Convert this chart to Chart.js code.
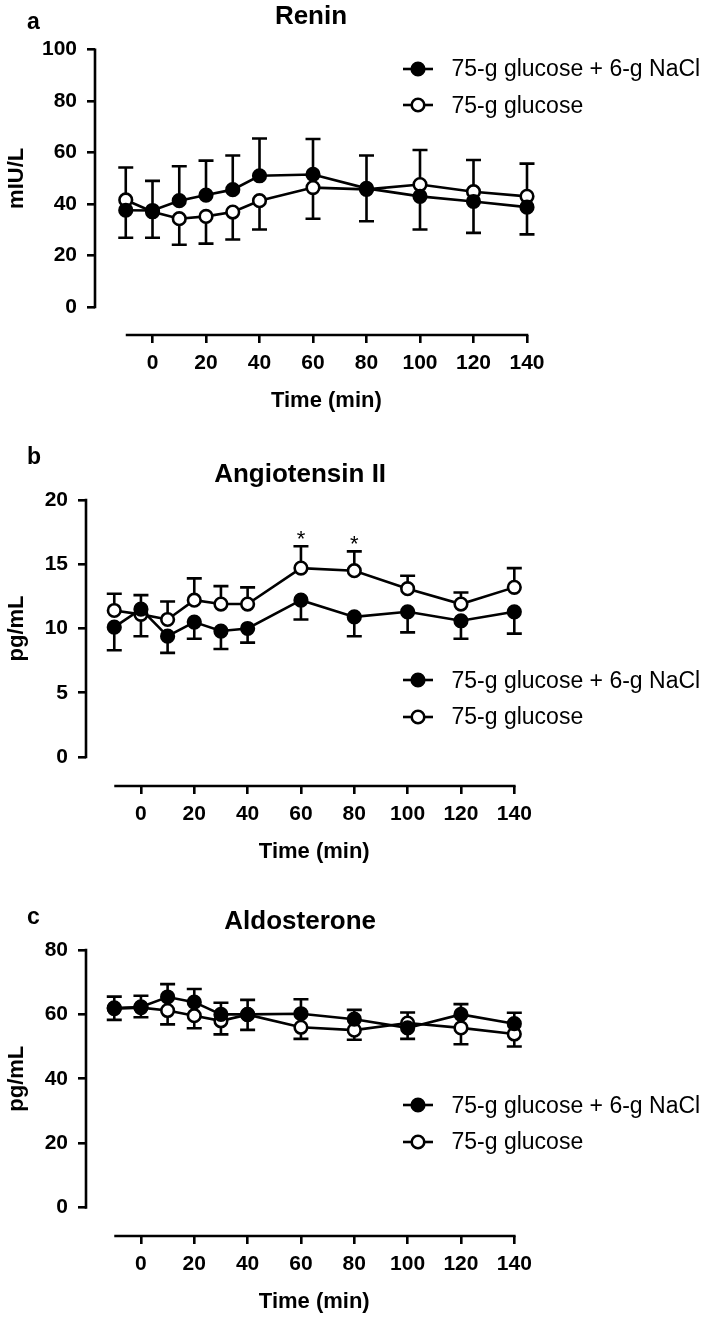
<!DOCTYPE html>
<html>
<head>
<meta charset="utf-8">
<script src="https://cdn.jsdelivr.net/npm/chart.js@4.4.0/dist/chart.umd.min.js"></script>
<style>
  body { margin: 0; background: #fff; width: 709px; height: 1319px; overflow: hidden; font-family: "Liberation Sans", Arial, Helvetica, sans-serif; color: #000; }
  .panel { position: absolute; left: 0; width: 709px; }
  .panel canvas { display: block; }
  .letter { position: absolute; left: 27px; font-weight: bold; font-size: 23px; line-height: 22px; }
  .legend { position: absolute; left: 403px; font-size: 23px; }
  .legend .row { display: flex; align-items: center; height: 36.5px; white-space: nowrap; }
  .legend svg { margin-right: 17.5px; flex: none; }
</style>
</head>
<body>
<div class="panel" id="pa" style="top:0"><canvas id="cA" width="709" height="430"></canvas></div>
<div class="panel" id="pb" style="top:430px"><canvas id="cB" width="709" height="440"></canvas></div>
<div class="panel" id="pc" style="top:870px"><canvas id="cC" width="709" height="449"></canvas></div>

<script>
const INK = '#000';
const FONT = "'Liberation Sans', Arial, Helvetica, sans-serif";
const LW = 2.6;

// sampling times (min) and x ticks, shared by all panels
const times = [-10, 0, 10, 20, 30, 40, 60, 80, 100, 120, 140];
const timeTicks = [0, 20, 40, 60, 80, 100, 120, 140];
const seriesNames = ['75-g glucose + 6-g NaCl', '75-g glucose'];

// a: renin, mIU/L (mean, SEM)
const reninSalt    = [37.6, 37.5, 41.3, 43.5, 45.6, 51.0, 51.5, 46.1, 43.0, 41.0, 38.8];
const reninSaltSem = [10.7, 11.5, 13.4, 13.4, 13.3, 14.5, 13.8, 12.8, 12.9, 12.2, 10.6];
const reninGlu     = [41.6, 37.0, 34.3, 35.2, 36.9, 41.3, 46.4, 45.7, 47.6, 44.8, 43.0];
const reninGluSem  = [12.6, 10.1, 10.1, 10.6, 10.7, 11.2, 12.1, 12.4, 13.4, 12.3, 12.7];
const reninTicks   = [0, 20, 40, 60, 80, 100];

// b: angiotensin II, pg/mL
const angSalt    = [10.1, 11.5, 9.4, 10.5, 9.8, 10.0, 12.2, 10.9, 11.3, 10.6, 11.3];
const angSaltSem = [1.8, 1.1, 1.3, 1.3, 1.4, 1.1, 1.5, 1.5, 1.6, 1.4, 1.7];
const angGlu     = [11.4, 11.1, 10.7, 12.2, 11.9, 11.9, 14.7, 14.5, 13.1, 11.9, 13.2];
const angGluSem  = [1.3, 1.7, 1.4, 1.7, 1.4, 1.3, 1.7, 1.5, 1.0, 0.9, 1.5];
const angTicks   = [0, 5, 10, 15, 20];
const angStars   = [60, 80];   // * above glucose-only points

// c: aldosterone, pg/mL
const aldoSalt    = [62.0, 62.3, 65.4, 63.8, 60.0, 60.0, 60.2, 58.5, 55.8, 60.0, 57.1];
const aldoSaltSem = [3.5, 3.5, 4.0, 4.1, 3.6, 4.5, 4.5, 2.9, 3.4, 3.2, 3.4];
const aldoGlu     = [61.8, 62.1, 61.2, 59.6, 58.0, 59.9, 56.0, 55.1, 57.3, 55.8, 53.9];
const aldoGluSem  = [3.5, 3.0, 4.3, 3.9, 4.2, 4.7, 3.6, 3.0, 3.3, 5.1, 3.9];
const aldoTicks   = [0, 20, 40, 60, 80];

// prism-style frame: detached axes, one-sided error bars, axis titles, stars
const gpFrame = {
  id: 'gpFrame',
  beforeDatasetsDraw(chart) {
    const { ctx, scales: { x, y } } = chart;
    const sets = chart.data.datasets;
    ctx.save();
    ctx.strokeStyle = INK; ctx.lineWidth = LW;
    sets.forEach((ds, i) => {
      const other = sets[1 - i].data;
      ds.data.forEach((pt, j) => {
        // upper series gets its bar upward, lower one downward
        const up = i === 0 ? pt.y >= other[j].y : pt.y > other[j].y;
        const end = pt.y + (up ? ds.sem[j] : -ds.sem[j]);
        const px = x.getPixelForValue(pt.x);
        const y0 = y.getPixelForValue(pt.y), y1 = y.getPixelForValue(end);
        ctx.beginPath();
        ctx.moveTo(px, y0); ctx.lineTo(px, y1);
        ctx.moveTo(px - 7.5, y1); ctx.lineTo(px + 7.5, y1);
        ctx.stroke();
      });
    });
    ctx.restore();
  },
  afterDraw(chart, args, opts) {
    const { ctx, chartArea: a, scales: { x, y } } = chart;
    const yTop = y.getPixelForValue(y.ticks[y.ticks.length - 1].value);
    const yZero = y.getPixelForValue(y.ticks[0].value);
    const xStart = x.getPixelForValue(times[0]);
    const xEnd = x.getPixelForValue(timeTicks[timeTicks.length - 1]);
    ctx.save();
    ctx.strokeStyle = INK; ctx.fillStyle = INK; ctx.lineWidth = LW;
    ctx.beginPath();
    ctx.moveTo(a.left, yTop - LW / 2); ctx.lineTo(a.left, yZero + LW / 2);
    ctx.moveTo(xStart, a.bottom); ctx.lineTo(xEnd + LW / 2, a.bottom);
    ctx.stroke();

    ctx.font = `bold 22px ${FONT}`;
    ctx.textAlign = 'center'; ctx.textBaseline = 'middle';
    ctx.fillText(opts.xTitle, (xStart + xEnd) / 2, a.bottom + 66);
    ctx.save();
    ctx.translate(17, (yTop + yZero) / 2);
    ctx.rotate(-Math.PI / 2);
    ctx.fillText(opts.yTitle, 0, 0);
    ctx.restore();

    const glu = chart.data.datasets[1];
    ctx.font = `22px ${FONT}`;
    ctx.textBaseline = 'alphabetic';
    (opts.stars || []).forEach(t => {
      const j = times.indexOf(t);
      const capY = y.getPixelForValue(glu.data[j].y + glu.sem[j]);
      ctx.fillText('*', x.getPixelForValue(t), capY - 0.5);
    });
    ctx.restore();
  }
};

function legendHTML() {
  const mark = fill => `<svg width="31" height="16"><line x1="0" y1="8" x2="30" y2="8" stroke="${INK}" stroke-width="${LW}"/><circle cx="15" cy="8" r="6.3" fill="${fill}" stroke="${INK}" stroke-width="${LW}"/></svg>`;
  return `<div class="row">${mark(INK)}<span>${seriesNames[0]}</span></div>` +
         `<div class="row">${mark('#fff')}<span>${seriesNames[1]}</span></div>`;
}

function drawPanel(p) {
  const panel = document.getElementById(p.panel);
  panel.insertAdjacentHTML('beforeend',
    `<div class="letter" style="top:${p.letterTop}px">${p.letter}</div>` +
    `<div class="legend" style="top:${p.legendTop}px">${legendHTML()}</div>`);

  const base = { borderColor: INK, borderWidth: LW, pointBorderColor: INK, pointBorderWidth: LW,
                 pointRadius: 6.3, pointHoverRadius: 6.3, tension: 0, clip: false };
  const datasets = [
    Object.assign({}, base, { label: seriesNames[0], sem: p.saltSem, pointBackgroundColor: INK,
      data: times.map((t, i) => ({ x: t, y: p.salt[i] })) }),
    Object.assign({}, base, { label: seriesNames[1], sem: p.gluSem, pointBackgroundColor: '#fff',
      data: times.map((t, i) => ({ x: t, y: p.glu[i] })) })
  ];
  const tickFont = { family: FONT, size: 21, weight: 'bold' };
  const grid = { display: true, drawOnChartArea: false, drawTicks: true, tickLength: 8, color: INK, lineWidth: LW };

  new Chart(document.getElementById(p.canvas), {
    type: 'line',
    data: { datasets },
    plugins: [gpFrame],
    options: {
      responsive: false, animation: false, devicePixelRatio: 1,
      layout: { padding: { left: 0, right: 709 - p.xRight, top: 0, bottom: 0 } },
      plugins: {
        legend: { display: false },
        tooltip: { enabled: false },
        title: { display: true, text: p.title, fullSize: false, color: INK,
                 font: { family: FONT, size: 26, weight: 'bold', lineHeight: 1.2 },
                 padding: { top: p.titleCenter - 15.6, bottom: p.plotTop - p.titleCenter - 15.6 } },
        gpFrame: { xTitle: 'Time (min)', yTitle: p.yTitle, stars: p.stars }
      },
      scales: {
        x: {
          type: 'linear', min: p.xMin, max: 140,
          afterBuildTicks: s => { s.ticks = timeTicks.map(v => ({ value: v })); },
          afterFit: s => { s.height = p.height - p.xAxisY; },
          grid, border: { display: false },
          ticks: { color: INK, font: tickFont, padding: 8, maxRotation: 0, autoSkip: false }
        },
        y: {
          min: p.yMin, max: p.yMax,
          afterBuildTicks: s => { s.ticks = p.yTicks.map(v => ({ value: v })); },
          afterFit: s => { s.width = p.yAxisX; },
          grid, border: { display: false },
          ticks: { color: INK, font: tickFont, padding: 10 }
        }
      }
    }
  });
}

drawPanel({ panel: 'pa', canvas: 'cA', letter: 'a', letterTop: 10, legendTop: 50.25,
  title: 'Renin', yTitle: 'mIU/L', height: 430, yAxisX: 95, xRight: 527, titleCenter: 16.5, plotTop: 49.7, xAxisY: 335,
  xMin: -21.5, yMin: -10.9, yMax: 100, yTicks: reninTicks,
  salt: reninSalt, saltSem: reninSaltSem, glu: reninGlu, gluSem: reninGluSem });

drawPanel({ panel: 'pb', canvas: 'cB', letter: 'b', letterTop: 15, legendTop: 231.75,
  title: 'Angiotensin II', yTitle: 'pg/mL', height: 440, yAxisX: 86, xRight: 514.3, titleCenter: 44.5, plotTop: 70, xAxisY: 356,
  xMin: -20.6, yMin: -2.26, yMax: 20, yTicks: angTicks, stars: angStars,
  salt: angSalt, saltSem: angSaltSem, glu: angGlu, gluSem: angGluSem });

drawPanel({ panel: 'pc', canvas: 'cC', letter: 'c', letterTop: 35, legendTop: 216.75,
  title: 'Aldosterone', yTitle: 'pg/mL', height: 449, yAxisX: 86, xRight: 514.3, titleCenter: 51.5, plotTop: 80, xAxisY: 366,
  xMin: -20.6, yMin: -8.85, yMax: 80, yTicks: aldoTicks,
  salt: aldoSalt, saltSem: aldoSaltSem, glu: aldoGlu, gluSem: aldoGluSem });
</script>
</body>
</html>
